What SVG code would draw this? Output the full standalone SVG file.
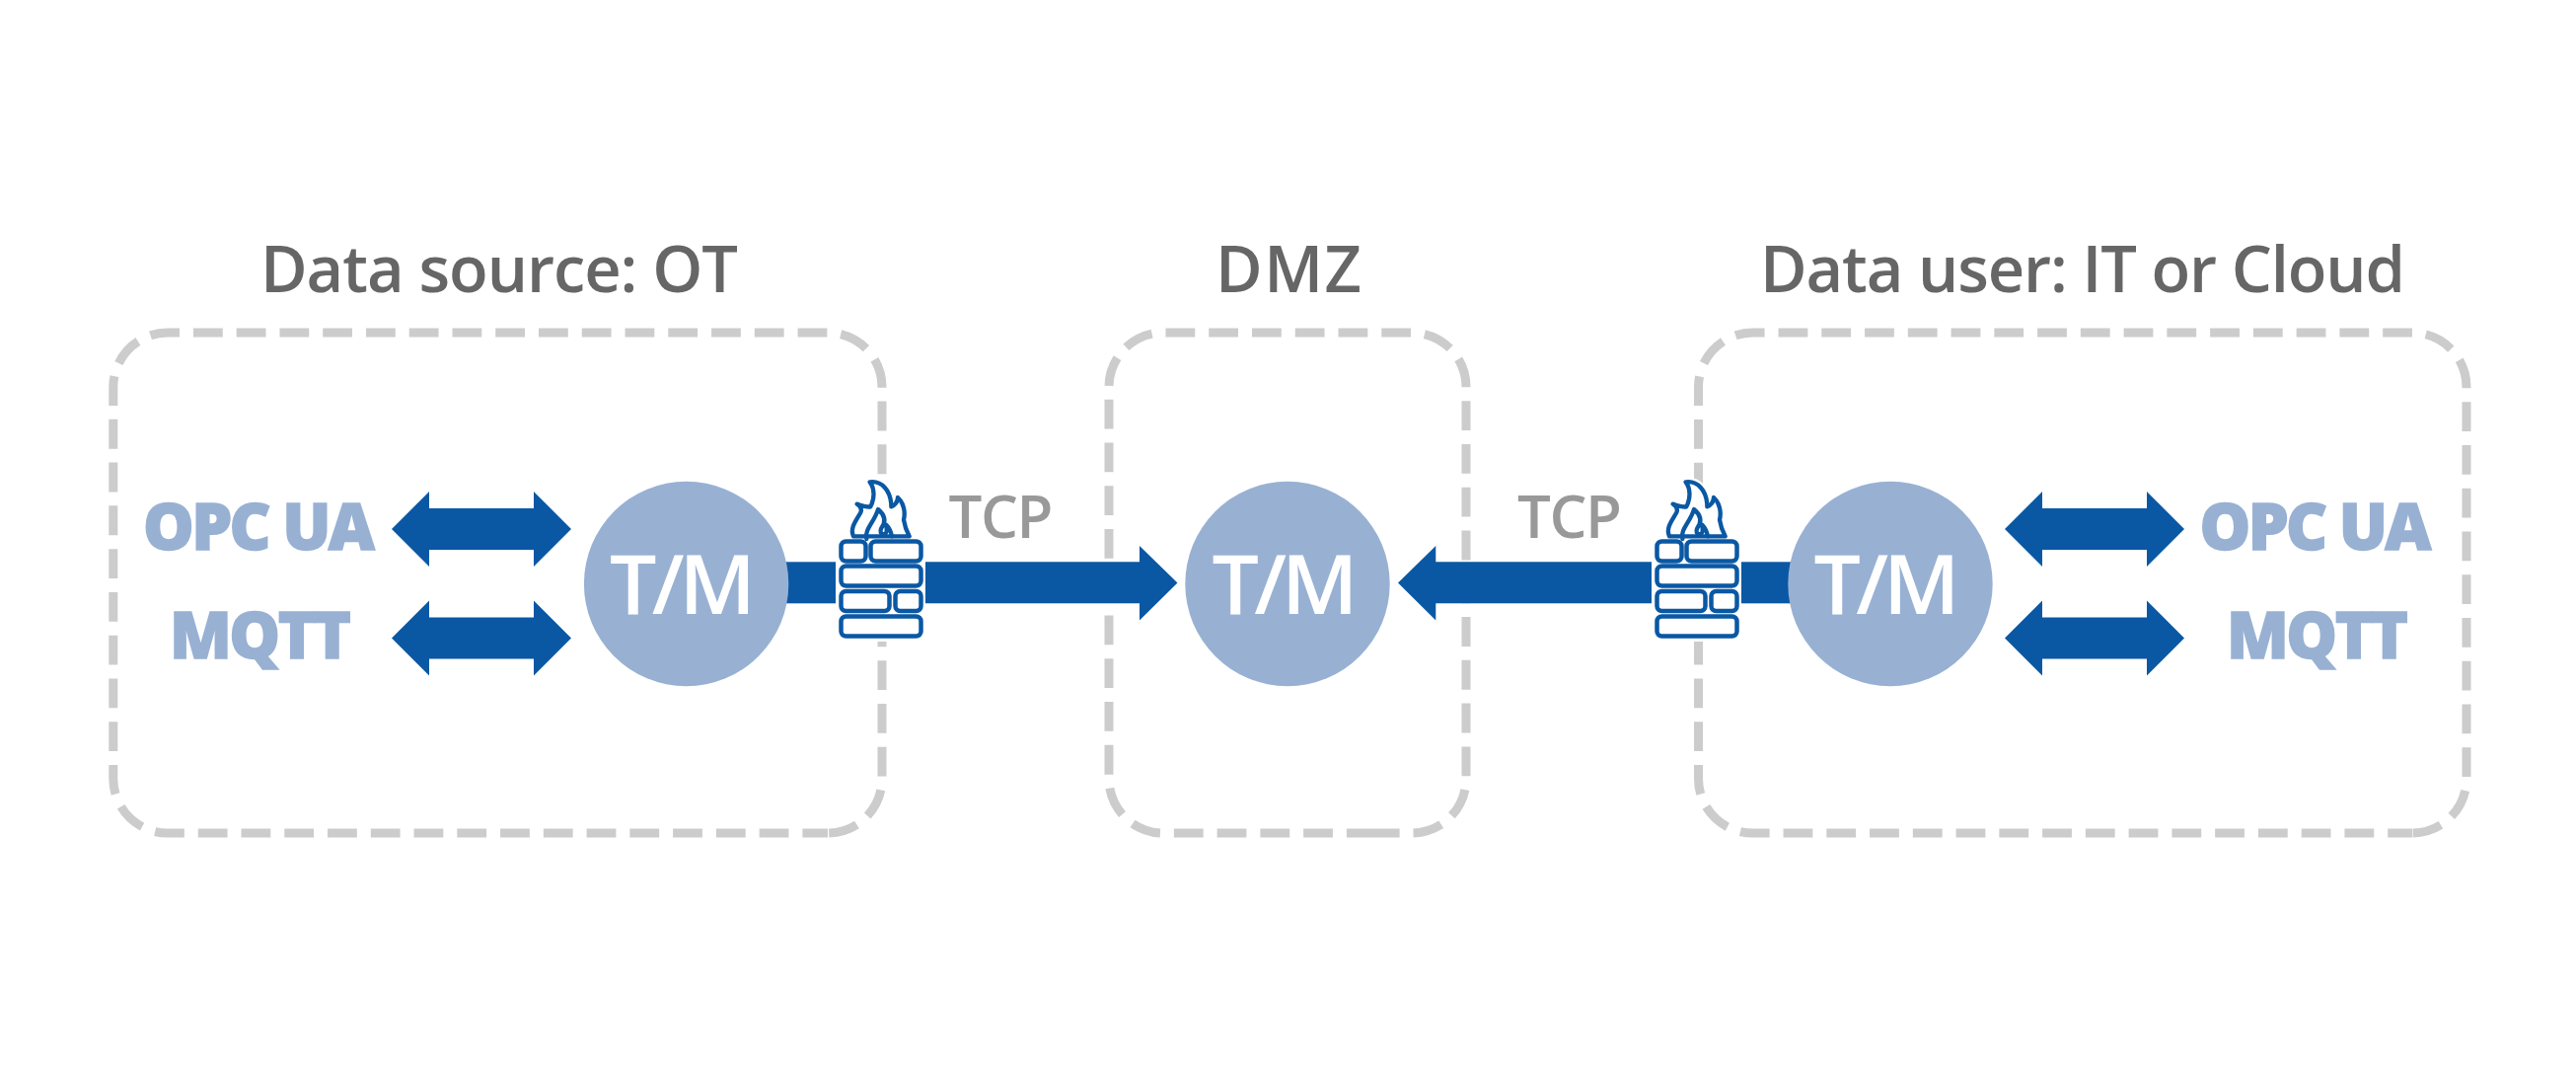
<svg xmlns="http://www.w3.org/2000/svg" width="2611" height="1081" viewBox="0 0 2611 1081">
<style>
text{font-family:"Open Sans","Noto Sans",sans-serif}
.zone{fill:none;stroke:#ccc;stroke-width:9px;stroke-dasharray:29.8 13.96}
.title{font-size:65px;font-weight:600;fill:#666;text-anchor:middle}
.tcp{font-size:60px;font-weight:600;fill:#999;text-anchor:middle}
.proto{font-size:65px;font-weight:800;fill:#98b1d3;stroke:#98b1d3;stroke-width:1.500px}
.tm{font-size:84px;font-weight:600;fill:#fff;text-anchor:middle}
.circle{fill:#98b1d3}
.blue{fill:#0a58a4}
.brick{fill:#fff;stroke:#0a58a4;stroke-width:4.500px}
.flame{fill:none;stroke:#0a58a4;stroke-width:13;stroke-linejoin:round;stroke-linecap:round}
.halo{fill:#fff;stroke:#fff;stroke-width:26;stroke-linejoin:round}
</style>
<defs>
<polygon id="dbl" class="blue" points="397,0 435,-38 435,-21 541,-21 541,-38 579,0 541,38 541,21 435,21 435,38"/>
<path id="flame-outer" d="M90 190C78 165 100 140 112 118C117 105 110 97 101 92C115 96 130 103 142 100C155 75 155 45 140 25C175 20 205 50 205 100C215 98 225 85 225 72C245 90 248 120 243 140C246 160 252 175 260 190Z"/>
<g id="fw">
<rect x="847" y="545" width="91" height="105" rx="8" fill="#fff"/>
<g transform="translate(835 480) scale(.3333)">
<use href="#flame-outer" class="halo"/>
<use href="#flame-outer" class="flame"/>
<path class="flame" d="M130 198C122 170 155 145 165 108C185 125 190 145 175 165C170 175 172 185 185 183C195 180 190 160 190 155C200 165 205 180 207 190"/>
</g>
<rect class="brick" x="852.500" y="548.500" width="25" height="20" rx="5"/>
<rect class="brick" x="882.500" y="548.500" width="51" height="20" rx="5"/>
<rect class="brick" x="852.500" y="573.500" width="81" height="20" rx="5"/>
<rect class="brick" x="852.500" y="599" width="49" height="20" rx="5"/>
<rect class="brick" x="907.500" y="599" width="26" height="20" rx="5"/>
<rect class="brick" x="852.500" y="624.500" width="81" height="20" rx="5"/>
</g>
</defs>
<g id="zones">
<path id="zone-ot" class="zone" style="stroke-dashoffset:4.200px" d="M839 844H169.800A55 55 0 0 1 114.800 789V392A55 55 0 0 1 169.800 337H839A55 55 0 0 1 894 392V789A55 55 0 0 1 839 844Z"/>
<path id="zone-dmz" class="zone" d="M1394.700 844H1179A55 55 0 0 1 1124 789V392A55 55 0 0 1 1179 337H1431A55 55 0 0 1 1486 392V789A55 55 0 0 1 1431 844Z"/>
<path id="zone-it" class="zone" style="stroke-dashoffset:5px" d="M2445 844H1776.500A55 55 0 0 1 1721.500 789V392A55 55 0 0 1 1776.500 337H2445A55 55 0 0 1 2500 392V789A55 55 0 0 1 2445 844Z"/>
</g>
<g id="titles">
<text class="title" x="506" y="296" textLength="484">Data source: OT</text>
<text class="title" x="1306" y="296" textLength="148">DMZ</text>
<text class="title" x="2111" y="296" textLength="654">Data user: IT or Cloud</text>
</g>
<g id="connectors">
<use href="#dbl" y="536"/>
<use href="#dbl" y="646.500"/>
<use href="#dbl" x="1635" y="536"/>
<use href="#dbl" x="1635" y="646.500"/>
<rect class="blue" x="780" y="569.300" width="70" height="42"/>
<polygon class="blue" points="935,569.300 1155,569.300 1155,553 1193.500,590.500 1155,628.500 1155,611.300 935,611.300"/>
<rect class="blue" x="1760" y="569.300" width="60" height="42"/>
<polygon class="blue" points="1678,569.300 1455.300,569.300 1455.300,553 1417,590.500 1455.300,628.500 1455.300,611.300 1678,611.300"/>
</g>
<g id="firewall-left"><use href="#fw"/></g>
<g id="firewall-right"><use href="#fw" x="827"/></g>
<g id="node-ot"><circle class="circle" cx="695.600" cy="591.500" r="103.700"/><text class="tm" x="692" y="621.500" textLength="148">T/M</text></g>
<g id="node-dmz"><circle class="circle" cx="1305" cy="591.500" r="103.700"/><text class="tm" x="1302.500" y="621.500" textLength="148">T/M</text></g>
<g id="node-it"><circle class="circle" cx="1916" cy="591.500" r="103.700"/><text class="tm" x="1912.500" y="621.500" textLength="148">T/M</text></g>
<g id="labels">
<text class="proto" x="145" y="556.500" textLength="235">OPC UA</text>
<text class="proto" x="172" y="666.500" textLength="184">MQTT</text>
<text class="proto" x="2229.500" y="556.500" textLength="235">OPC UA</text>
<text class="proto" x="2257" y="666.500" textLength="184">MQTT</text>
<text class="tcp" x="1014.500" y="545" textLength="106">TCP</text>
<text class="tcp" x="1591" y="545" textLength="106">TCP</text>
</g>
</svg>
